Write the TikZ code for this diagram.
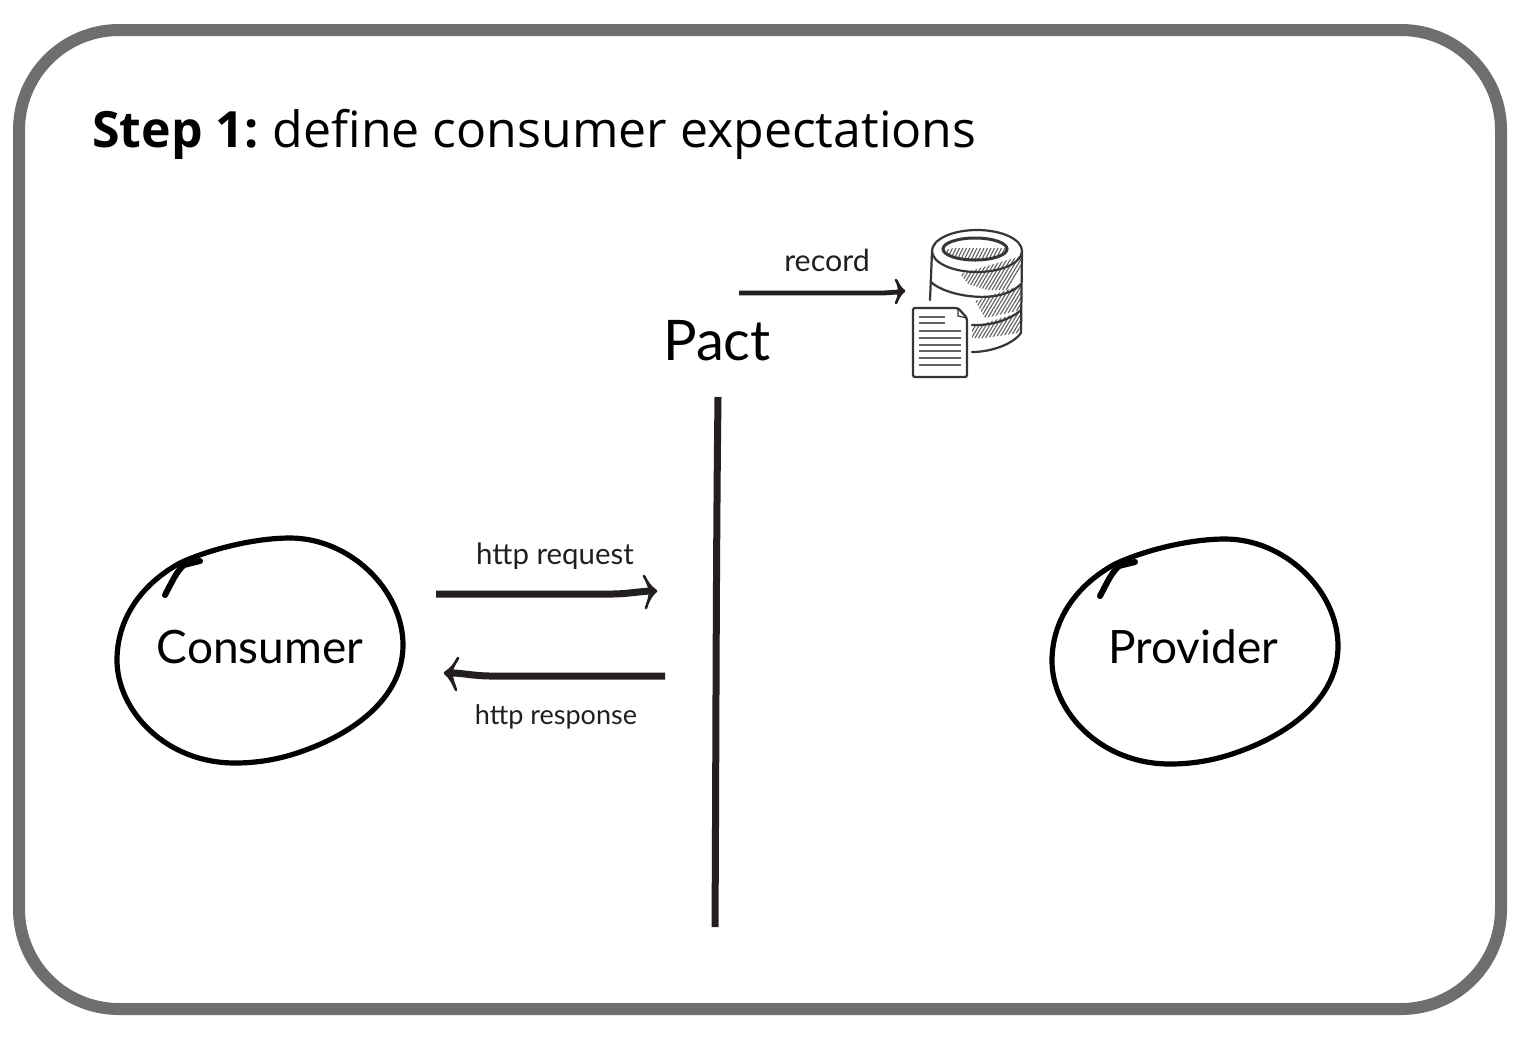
\documentclass[tikz,border=0pt]{standalone}
\usepackage{fontspec}
\setmainfont{Open Sans}
\newfontfamily\labelfont{Lato}
\usetikzlibrary{calc}
\definecolor{framegray}{HTML}{6E6E6E}
\definecolor{ink}{HTML}{231F20}
\tikzset{
  frame/.style={draw=framegray,line width=6pt,rounded corners=50pt},
  blob/.style={draw=black,line width=2.6pt,line cap=round,line join=round},
  bigname/.style={font=\labelfont\fontsize{23}{26}\selectfont,inner sep=0pt,text=black},
  small/.style={inner sep=0pt,text=ink},
  shaft/.style={draw=ink,line width=3.5pt},
  thinshaft/.style={draw=ink,line width=2.4pt},
  headfill/.style={draw=ink,line width=1.3pt,fill=ink,line join=round},
  icon/.style={draw=ink!90,line width=1.1pt,line cap=round},
  hatch/.style={draw=ink!70,line width=0.55pt},
  docline/.style={draw=ink!70,line width=0.8pt},
}
\newcommand{\blobshape}[2]{%
  \begin{scope}[shift={(#1,#2)}]
    \draw[blob] (117,660) .. controls (117,620) and (140,585) .. (180,563)
      .. controls (210,549) and (255,538) .. (290,538)
      .. controls (350,538) and (403,590) .. (403,645)
      .. controls (403,700) and (350,735) .. (300,752)
      .. controls (280,759) and (258,763) .. (235,763)
      .. controls (165,763) and (117,710) .. (117,660) -- cycle;
    \draw[blob,line width=3pt] (165,595) .. controls (172,582) and (176,572) .. (184,565) -- (200,561);
  \end{scope}}
\begin{document}
\begin{tikzpicture}[x=0.5pt,y=-0.5pt]
\useasboundingbox (0,0) rectangle (1540,1062);
\fill[white] (0,0) rectangle (1540,1062);
\draw[frame] (19,30) rectangle (1501,1009);
\node[anchor=base west,inner sep=0pt,font=\fontsize{25}{30}\selectfont] (title) at (92,147) {\textbf{Step 1:}\hspace{-1.5pt} define consumer expectations};

\blobshape{0}{0}
\blobshape{935}{1}
\node[bigname] (consumer) at (260,647) {Consumer};
\node[bigname] (provider) at (1193,647) {Provider};
\node[font=\labelfont\fontsize{28}{31}\selectfont,inner sep=0pt] (pact) at (717,341) {Pact};

% vertical line
\coordinate (linetop) at (718,397);
\coordinate (linebot) at (715,927);
\draw[draw=ink,line width=3.5pt] (linetop) .. controls (716,560) and (716,760) .. (linebot);

% http request
\coordinate (reqs) at (436,594);
\coordinate (reqe) at (650,591);
\draw[shaft] (reqs) -- (612,594) .. controls (625,594) and (635,592) .. (reqe);
\draw[headfill] (644,576) .. controls (647,582) and (650,587) .. (656,591) .. controls (651,595) and (648,601) .. (646,608) .. controls (648,602) and (650,597) .. (650,591) .. controls (649,586) and (647,581) .. (644,576) -- cycle;
\node[small,font=\labelfont\fontsize{14.7}{17}\selectfont] (req) at (555,556) {http request};

% http response
\coordinate (rese) at (452,673);
\coordinate (ress) at (665,676);
\draw[shaft] (ress) -- (490,676) .. controls (475,676) and (462,673) .. (rese);
\draw[headfill] (458,658) .. controls (455,664) and (451,669) .. (445,673) .. controls (450,677) and (453,683) .. (456,690) .. controls (454,684) and (452,679) .. (451,673) .. controls (452,668) and (455,663) .. (458,658) -- cycle;
\node[small,font=\labelfont\fontsize{13.5}{16}\selectfont] (res) at (556,717) {http response};

% record
\coordinate (recs) at (739,293);
\coordinate (rece) at (900,292);
\draw[thinshaft] (recs) -- (880,293) .. controls (888,293) and (895,292) .. (rece);
\draw[headfill] (896,280) .. controls (898,284) and (900,288) .. (904,291) .. controls (900,294) and (898,298) .. (896,303) .. controls (898,299) and (899,295) .. (899,291) .. controls (899,287) and (898,283) .. (896,280) -- cycle;
\node[small,font=\labelfont\fontsize{15.2}{18}\selectfont] (rec) at (827,260) {record};

% database hatching
\begin{scope}
  \clip (960,274) -- (1021,256) -- (1021,283) -- (1000,294) -- (968,284) -- cycle;
  \foreach \i in {0,3.5,...,80} \draw[hatch] (1030-\i,250) -- ++(-24,40);
\end{scope}
\begin{scope}
  \clip (975,301) -- (1021,285) -- (1021,310) -- (985,318) -- cycle;
  \foreach \i in {0,3.5,...,80} \draw[hatch] (1035-\i,280) -- ++(-24,40);
\end{scope}
\begin{scope}
  \clip (972,327) -- (1021,312) -- (1019,333) -- (985,338) -- (972,338) -- cycle;
  \foreach \i in {0,3.5,...,80} \draw[hatch] (1035-\i,308) -- ++(-24,40);
\end{scope}
\begin{scope}
  \clip (975,249) ellipse [x radius=31,y radius=10];
  \clip (945,250) -- (1010,235) -- (1010,262) -- (945,262) -- cycle;
  \foreach \i in {0,3.5,...,70} \draw[hatch] (1012-\i,248) -- ++(-6,12);
\end{scope}
% database outline
\draw[icon] (977,251) ellipse [x radius=45,y radius=21];
\draw[icon,line width=1.5pt] (975,249) ellipse [x radius=32,y radius=11];
\draw[icon] (932,252) -- (930,300);
\draw[icon] (1022,252) -- (1021,333);
\draw[icon] (931,282) .. controls (945,296) and (1000,306) .. (1021,284);
\draw[icon] (972,325) .. controls (990,326) and (1010,320) .. (1021,310);
\draw[icon] (972,352) .. controls (990,352) and (1012,345) .. (1021,333);
% document
\draw[icon,fill=white,rounded corners=1pt] (913,308) -- (958,308) -- (967,318) -- (967,377) -- (913,377) -- cycle;
\draw[icon,line width=0.6pt] (958,308) -- (958,316) -- (967,318);
\foreach \y/\e in {317/945,323/945,331/961,338/961,345/961,351/961,358/961,365/961}
  \draw[docline] (919,\y) -- (\e,\y);
\end{tikzpicture}
\end{document}
